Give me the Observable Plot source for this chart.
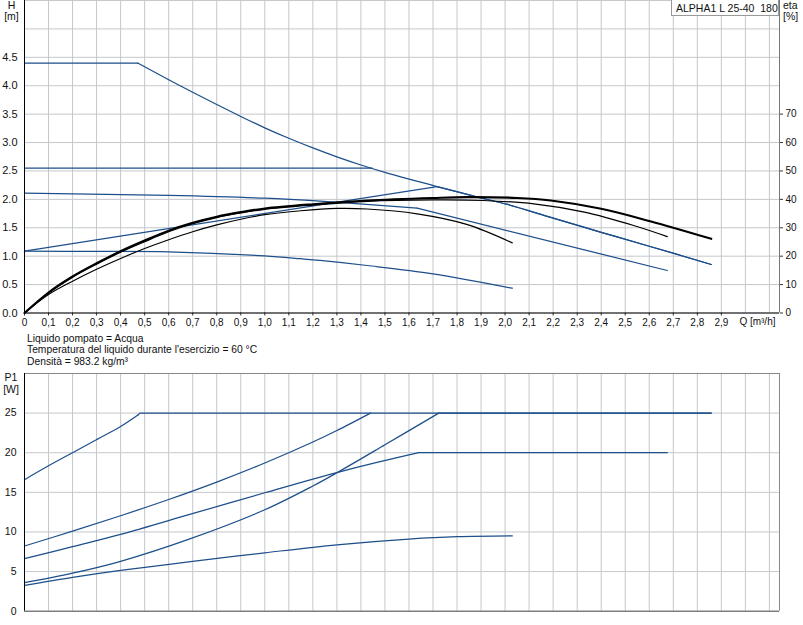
<!DOCTYPE html>
<html><head><meta charset="utf-8">
<script src="https://cdn.jsdelivr.net/npm/d3@7"></script>
<script src="https://cdn.jsdelivr.net/npm/@observablehq/plot@0.6"></script>
<style>
body{margin:0;background:#fff;}
#wrap{position:relative;width:803px;height:625px;overflow:hidden;background:#fff;font-family:"Liberation Sans",Arial,sans-serif;color:#111;}
#wrap svg{position:absolute;left:0;overflow:visible;}
.abs{position:absolute;white-space:pre;}
</style></head><body>
<div id="wrap"></div>
<script>
// ---------- axes / ticks ----------
const qDomain = [0, 3.142];
const qTickLabels = [0,0.1,0.2,0.3,0.4,0.5,0.6,0.7,0.8,0.9,1.0,1.1,1.2,1.3,1.4,1.5,1.6,1.7,1.8,1.9,2.0,2.1,2.2,2.3,2.4,2.5,2.6,2.7,2.8,2.9];
const qGrid = [...qTickLabels, 3.0, 3.1];
const qTitle = [{q: 3.0, t: "Q [m³/h]"}];
const hDomain = [0, 5.5];
const hTicks = [0,0.5,1.0,1.5,2.0,2.5,3.0,3.5,4.0,4.5];
const hGrid = [...hTicks, 5.0, 5.5];
const etaDomain = [0, 110];
const etaTicks = [0,10,20,30,40,50,60,70];
const pDomain = [0, 30];
const pTicks = [0,5,10,15,20,25];
const pGrid = [...pTicks, 30];

// ---------- H curves [Q, H] ----------
const hMaxFlat = [[0,4.40],[0.471,4.40]];
const hMaxFall = [[0.471,4.40],[0.602,4.10],[0.702,3.88],[0.802,3.665],[0.902,3.455],[1.002,3.255],[1.10,3.075],[1.20,2.905],[1.30,2.748],[1.40,2.605],[1.50,2.475],[1.717,2.226],[1.87,2.056],[2.01,1.91],[2.20,1.67],[2.40,1.42],[2.60,1.175],[2.858,0.854]];
const hConstHigh = [[0,2.55],[1.447,2.55]];
const hConstLow = [[0,2.11],[0.6,2.07],[1.0,2.02],[1.23,1.967],[1.634,1.844]];
const hConstLowFall = [[1.634,1.844],[2.675,0.748]];
const hPropRise = [[0,1.088],[1.717,2.226]];
const hPropFall = [[1.717,2.226],[1.87,2.056],[2.01,1.91],[2.20,1.67],[2.40,1.42],[2.60,1.175],[2.858,0.854]];
const hMin = [[0,1.088],[0.3,1.085],[0.6,1.077],[1.0,1.005],[1.149,0.955],[1.23,0.925],[1.426,0.836],[1.70,0.69],[2.03,0.436]];

// ---------- eta curves [Q, %] ----------
const etaMax = [[0,0],[0.1,7.2],[0.2,12.85],[0.3,17.5],[0.4,21.75],[0.5,25.5],[0.6,29.0],[0.7,31.75],[0.8,33.9],[0.9,35.5],[1.0,36.8],[1.2,38.3],[1.426,39.6],[1.70,40.5],[1.84,40.8],[2.05,40.5],[2.19,39.6],[2.40,36.7],[2.604,32.3],[2.858,26.1]];
const etaMid = [[0,0],[0.1,7.0],[0.2,12.6],[0.3,17.2],[0.4,21.4],[0.5,25.1],[0.6,28.6],[0.7,31.4],[0.8,33.6],[0.9,35.2],[1.0,36.5],[1.2,38.0],[1.426,39.3],[1.70,39.8],[1.91,39.6],[2.12,38.4],[2.33,35.5],[2.535,30.8],[2.675,26.9]];
const etaLow = [[0,0],[0.1,6.5],[0.2,11.2],[0.3,15.4],[0.4,19.2],[0.5,22.7],[0.6,25.8],[0.7,28.6],[0.8,31.0],[0.9,33.0],[1.0,34.6],[1.15,36.0],[1.3,36.8],[1.426,36.6],[1.634,34.9],[1.84,31.2],[2.03,24.7]];

// ---------- P1 curves [Q, W] ----------
const pMaxRise = [[0,16.6],[0.1,18.35],[0.2,20.0],[0.3,21.65],[0.4,23.3],[0.472,24.75]];
const pMaxFlat = [[0.472,24.75],[0.48,25],[2.858,25]];
const pConstHigh = [[0,8.23],[0.2,10.1],[0.4,12.05],[0.6,14.1],[0.8,16.3],[1.0,18.7],[1.2,21.35],[1.3,22.8],[1.44,25]];
const pConstLow = [[0,6.63],[0.2,8.15],[0.4,9.7],[0.691,12.24],[1.0,14.95],[1.3,17.5],[1.641,20]];
const pConstLowFlat = [[1.641,20],[2.675,20]];
const pPropRise = [[0,3.6],[0.2,4.8],[0.4,6.3],[0.691,9.16],[1.0,12.8],[1.2,15.8],[1.3,17.47],[1.5,21.0],[1.724,25]];
const pPropFlat = [[1.724,25],[2.858,25]];
const pMin = [[0,3.25],[0.2,4.27],[0.4,5.15],[0.691,6.25],[1.0,7.37],[1.3,8.38],[1.6,9.1],[1.8,9.4],[2.03,9.5]];

// ---------- helpers ----------
const rows = (series) => series.flatMap(([id, pts]) => pts.map(([q, v]) => ({id, q, v})));
const hCurved = rows([["b",hMaxFall],["d",hConstLow],["g",hPropFall],["h",hMin]]);
const hStraight = rows([["a",hMaxFlat],["c",hConstHigh],["e",hConstLowFall],["f",hPropRise]]);
const etaThick = rows([["m",etaMax]]);
const etaThin = rows([["n",etaMid],["o",etaLow]]);
const pCurved = rows([["a",pMaxRise],["c",pConstHigh],["d",pConstLow],["f",pPropRise],["h",pMin]]);
const pStraight = rows([["b",pMaxFlat],["e",pConstLowFlat],["g",pPropFlat]]);

const BLUE = "#1d4f8b", GRID = "#c4c7cb", FONT = "Liberation Sans, Arial, sans-serif";
const fmtQ = d => d === 0 ? "0" : d.toFixed(1).replace(".", ",");
const baseStyle = {fontFamily: FONT, fontSize: "10px", background: "transparent", color: "#111", overflow: "visible"};
const W = 803, ML = 24, MR = 24;
const lineOpts = (curve) => ({x: "q", y: "v", z: "id", stroke: BLUE, strokeWidth: 1.25, curve});

const wrap = document.getElementById("wrap");

// ---------- top: H ----------
const hChart = Plot.plot({
  width: W, height: 340, marginLeft: ML, marginRight: MR, marginTop: 0, marginBottom: 27.5,
  style: baseStyle,
  x: {domain: qDomain, axis: null},
  y: {domain: hDomain, axis: null},
  marks: [
    Plot.gridX(qGrid, {stroke: GRID, strokeOpacity: 1}),
    Plot.gridY(hGrid, {stroke: GRID, strokeOpacity: 1}),
    Plot.line(hStraight, lineOpts("linear")),
    Plot.line(hCurved, lineOpts("catmull-rom")),
    Plot.axisX(qTickLabels, {tickSize: 3, tickPadding: 3, tickFormat: fmtQ, label: null, fontSize: 10, stroke: "#333"}),
    Plot.text(qTitle, {x: "q", frameAnchor: "bottom", dy: 11.5, dx: -6, textAnchor: "start", text: "t", fontSize: 10, fill: "#111"}),
    Plot.axisY(hTicks, {tickSize: 0, tickPadding: 7, tickFormat: d3.format(".1f"), label: null, fontSize: 11}),
    Plot.ruleX([qDomain[1]], {stroke: "#777"}),
    Plot.ruleX([0], {stroke: "#000"}),
    Plot.ruleY([0], {stroke: "#000"})
  ]
});
hChart.style.top = "0px";
wrap.appendChild(hChart);

// ---------- top overlay: eta ----------
const etaChart = Plot.plot({
  width: W, height: 340, marginLeft: ML, marginRight: MR, marginTop: 0, marginBottom: 27.5,
  style: baseStyle,
  x: {domain: qDomain, axis: null},
  y: {domain: etaDomain, axis: null},
  marks: [
    Plot.line(etaThin, {x: "q", y: "v", z: "id", stroke: "#000", strokeWidth: 1.2, curve: "catmull-rom"}),
    Plot.line(etaThick, {x: "q", y: "v", z: "id", stroke: "#000", strokeWidth: 2.1, curve: "catmull-rom"}),
    Plot.axisY(etaTicks, {anchor: "right", tickSize: 3, tickPadding: 3, label: null, stroke: "#333", fontSize: 10})
  ]
});
etaChart.style.top = "0px";
wrap.appendChild(etaChart);

// ---------- bottom: P1 ----------
const pChart = Plot.plot({
  width: W, height: 265, marginLeft: ML, marginRight: MR, marginTop: 13, marginBottom: 14.3,
  style: baseStyle,
  x: {domain: qDomain, axis: null},
  y: {domain: pDomain, axis: null},
  marks: [
    Plot.gridX(qGrid, {stroke: GRID, strokeOpacity: 1}),
    Plot.gridY(pGrid, {stroke: GRID, strokeOpacity: 1}),
    Plot.ruleY([pDomain[1]], {stroke: "#888"}),
    Plot.ruleX([qDomain[1]], {stroke: "#888"}),
    Plot.line(pStraight, lineOpts("linear")),
    Plot.line(pCurved, lineOpts("catmull-rom")),
    Plot.axisY(pTicks, {tickSize: 0, tickPadding: 8, label: null, fontSize: 10.5}),
    Plot.ruleX([0], {stroke: "#000"}),
    Plot.ruleY([0], {stroke: "#555"})
  ]
});
pChart.style.top = "360px";
wrap.appendChild(pChart);

// ---------- texts ----------
function addText(html, css) {
  const d = document.createElement("div");
  d.className = "abs";
  d.innerHTML = html;
  Object.assign(d.style, css);
  wrap.appendChild(d);
  return d;
}
addText("H\n[m]", {left: "0px", width: "23px", top: "0px", fontSize: "10.5px", lineHeight: "11px", textAlign: "center"});
addText("eta\n[%]", {left: "783px", top: "0px", fontSize: "10.5px", lineHeight: "11px"});
addText("P1\n[W]", {left: "0px", width: "22px", top: "372px", fontSize: "10.5px", lineHeight: "11.5px", textAlign: "center"});
addText("ALPHA1 L 25-40  180", {left: "671px", top: "-1px", width: "102px", height: "15px", padding: "0 0 0 4px", border: "1px solid #999", background: "#fff", fontSize: "10.5px", lineHeight: "16px"});
addText("Liquido pompato = Acqua\nTemperatura del liquido durante l'esercizio = 60 °C\nDensità = 983.2 kg/m³", {left: "27px", top: "332.5px", fontSize: "10.3px", lineHeight: "11.7px"});
</script>
</body></html>
